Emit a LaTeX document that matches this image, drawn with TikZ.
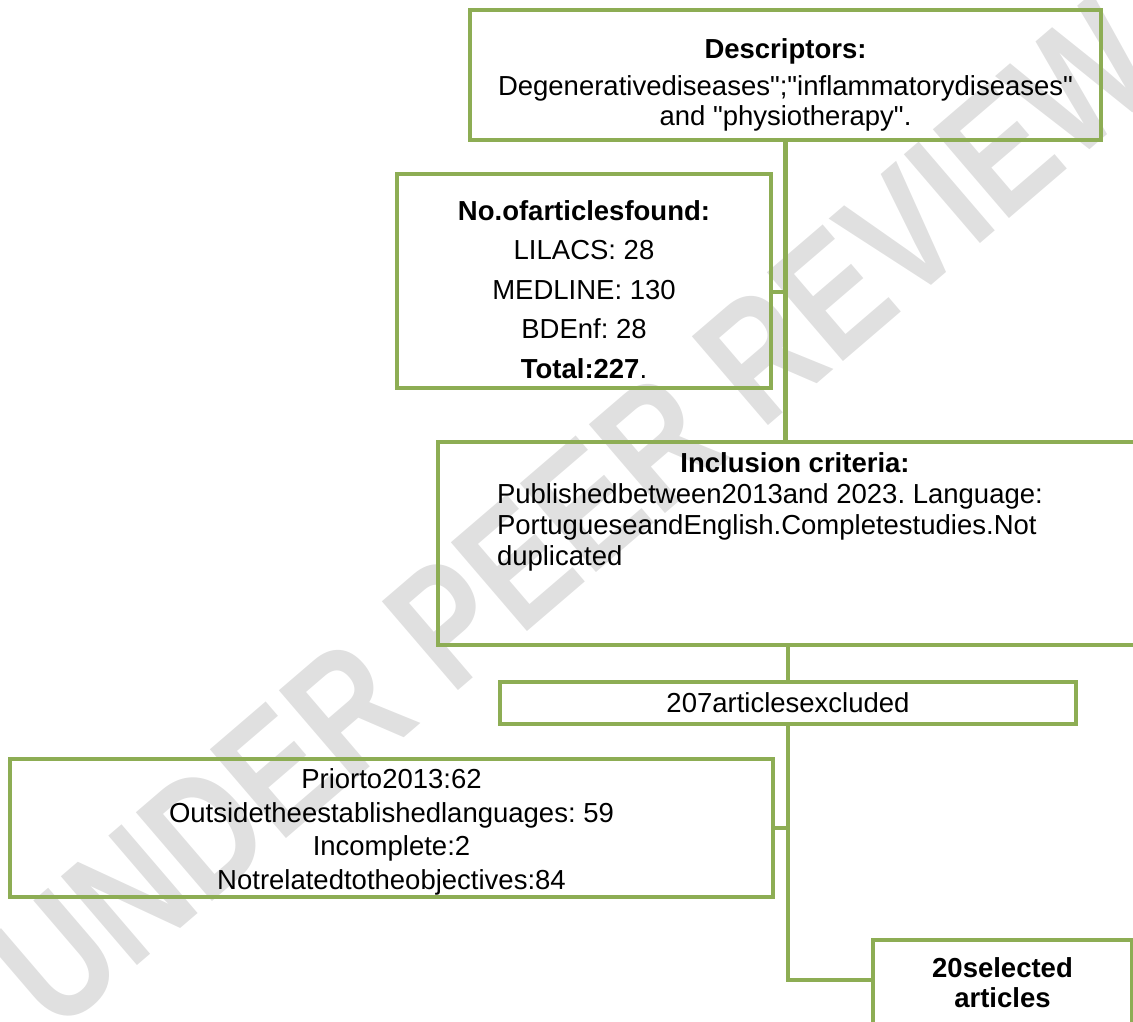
\documentclass[tikz,border=0pt]{standalone}
\usepackage{fontspec}
\setmainfont{Liberation Sans}[Ligatures=TeXOff]
\usepackage{tikz}
\definecolor{boxgreen}{RGB}{141,173,84}
\definecolor{markgray}{RGB}{224,224,224}
\newcommand{\flowfont}{\fontsize{27.5}{30}\selectfont\frenchspacing}

\begin{document}
\begin{tikzpicture}[x=1pt,y=-1pt,
    box/.style={draw=boxgreen, line width=4.5pt, inner sep=0pt, font=\flowfont},
    link/.style={draw=boxgreen, line width=4.5pt}]
  % page frame
  \useasboundingbox (0,0) rectangle (1133,1021);
  \clip (0,0) rectangle (1133,1021);
  % watermark
  \node[markgray, rotate=40.6, xscale=0.8, font=\fontsize{170}{170}\selectfont\bfseries] (mark) at (575,515) {UNDER PEER REVIEW};
  % boxes
  \node[box] (desc) at (785.5,75) {\parbox[c][130pt][t]{631pt}{\centering
      \rule{0pt}{48pt}\textbf{Descriptors:}\\[7pt]
      Degenerativediseases";"inflammatorydiseases"\\
      and "physiotherapy".}};
  \node[box] (arts) at (584,281) {\parbox[c][214pt][t]{374pt}{\centering\fontsize{27.5}{39.5}\selectfont
      \rule{0pt}{46pt}\textbf{No.ofarticlesfound:}\\
      LILACS: 28\\
      MEDLINE: 130\\
      BDEnf: 28\\
      \textbf{Total:227}.}};
  \node[box] (incl) at (795,543.5) {\parbox[c][203pt][t]{714pt}{\fontsize{27.5}{31}\selectfont\centering
      \rule{0pt}{30pt}\textbf{Inclusion criteria:}\par
      \raggedright\leftskip=59pt
      Publishedbetween2013and 2023. Language:\\
      PortugueseandEnglish.Completestudies.Not\\
      duplicated}};
  \node[box, minimum width=576pt, minimum height=42pt] (excl) at (788,703) {207articlesexcluded};
  \node[box] (prior) at (391.5,828) {\parbox[c][138pt][t]{763pt}{\centering\fontsize{27.5}{33.5}\selectfont
      \rule{0pt}{29.5pt}Priorto2013:62\\
      Outsidetheestablishedlanguages: 59\\
      Incomplete:2\\
      Notrelatedtotheobjectives:84}};
  \node[box] (sel) at (1002.5,990) {\parbox[c][100pt][t]{259pt}{\centering\bfseries
      \rule{0pt}{37pt}20selected\\
      articles}};
  % connectors
  \draw[link] (desc.south) -- (desc.south |- incl.north);
  \draw[link] ([yshift=-11pt]arts.east) -- ([yshift=-11pt]arts.east -| desc.south);
  \draw[link] (incl.south -| excl.north) -- (excl.north);
  \draw[link] (excl.south) |- ([yshift=10pt]sel.west);
  \draw[link] (prior.east) -- (prior.east -| excl.south);
\end{tikzpicture}
\end{document}
